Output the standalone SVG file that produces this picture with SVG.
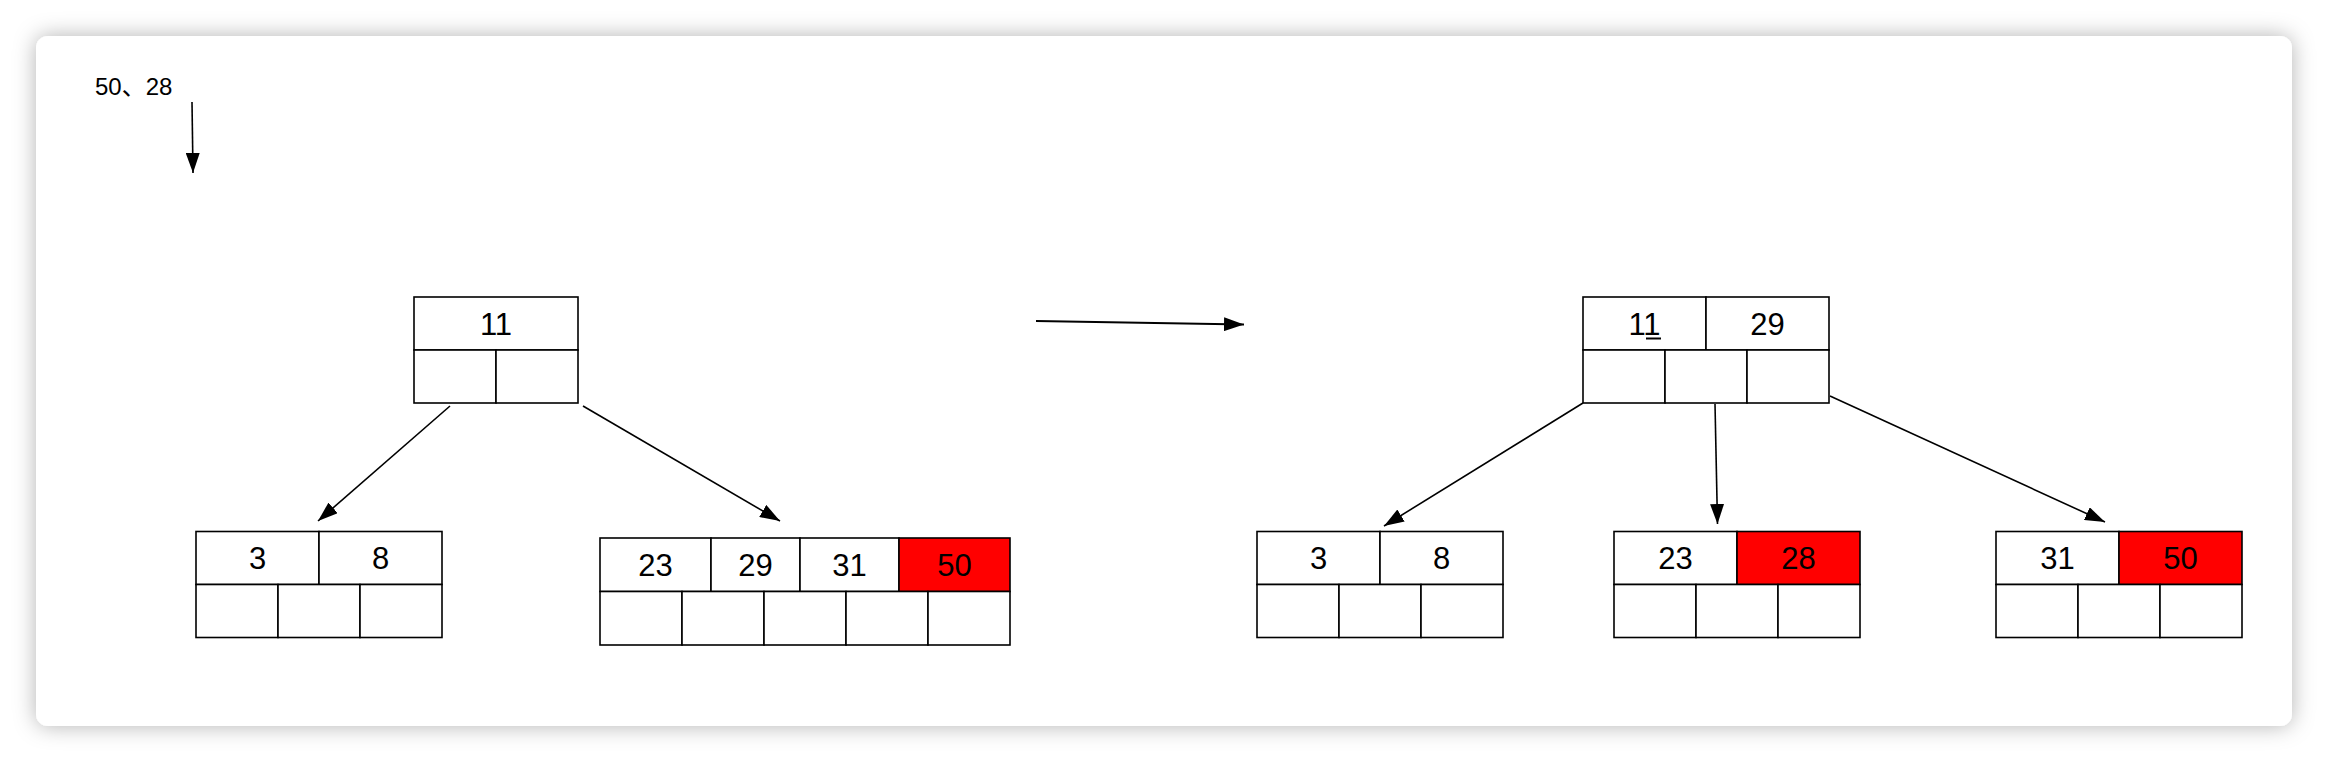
<svg xmlns="http://www.w3.org/2000/svg" width="2328" height="762" viewBox="0 0 2328 762">
<style>
.cell{fill:#ffffff;stroke:#000000;stroke-width:1.6}
.red{fill:#ff0000;stroke:#000000;stroke-width:1.6}
.t{font-family:"Liberation Sans",Arial,sans-serif;font-size:31px;fill:#000000;text-anchor:middle}
.lbl{font-family:"Liberation Sans","Noto Sans CJK SC",sans-serif;font-size:24px;fill:#000000}
.edge{stroke:#000000;stroke-width:1.6;fill:none;marker-end:url(#arrow)}
</style>
<defs>
<filter id="shadow" x="-5%" y="-10%" width="110%" height="120%">
<feDropShadow dx="0" dy="0" stdDeviation="11" flood-color="#000000" flood-opacity="0.3"/>
</filter>
<marker id="arrow" markerUnits="userSpaceOnUse" markerWidth="20" markerHeight="14" refX="20" refY="7" orient="auto">
<path d="M0,0 L20,7 L0,14 Z" fill="#000000"/>
</marker>
</defs>
<rect x="0" y="0" width="2328" height="762" fill="#ffffff"/>
<rect id="card" x="36" y="36" width="2256" height="690" rx="12" fill="#ffffff" filter="url(#shadow)"/>

<g id="label-input">
<text class="lbl" x="95" y="95">50、28</text>
</g>

<g id="tree1-root">
<rect class="cell" x="414" y="297" width="164" height="53"/>
<rect class="cell" x="414" y="350" width="82" height="53"/>
<rect class="cell" x="496" y="350" width="82" height="53"/>
<text class="t" x="496" y="335">11</text>
</g>

<g id="tree1-leaf-3-8">
<rect class="cell" x="196" y="531.5" width="123" height="53"/>
<rect class="cell" x="319" y="531.5" width="123" height="53"/>
<rect class="cell" x="196" y="584.5" width="82" height="53"/>
<rect class="cell" x="278" y="584.5" width="82" height="53"/>
<rect class="cell" x="360" y="584.5" width="82" height="53"/>
<text class="t" x="257.5" y="569">3</text>
<text class="t" x="380.5" y="569">8</text>
</g>

<g id="tree1-leaf-23-29-31-50">
<rect class="cell" x="600" y="538" width="111" height="53.5"/>
<rect class="cell" x="711" y="538" width="89" height="53.5"/>
<rect class="cell" x="800" y="538" width="99" height="53.5"/>
<rect class="red" x="899" y="538" width="111" height="53.5"/>
<rect class="cell" x="600" y="591.5" width="82" height="53.5"/>
<rect class="cell" x="682" y="591.5" width="82" height="53.5"/>
<rect class="cell" x="764" y="591.5" width="82" height="53.5"/>
<rect class="cell" x="846" y="591.5" width="82" height="53.5"/>
<rect class="cell" x="928" y="591.5" width="82" height="53.5"/>
<text class="t" x="655.5" y="576">23</text>
<text class="t" x="755.5" y="576">29</text>
<text class="t" x="849.5" y="576">31</text>
<text class="t" x="954.5" y="576">50</text>
</g>

<g id="tree2-root">
<rect class="cell" x="1583" y="297" width="123" height="53"/>
<rect class="cell" x="1706" y="297" width="123" height="53"/>
<rect class="cell" x="1583" y="350" width="82" height="53"/>
<rect class="cell" x="1665" y="350" width="82" height="53"/>
<rect class="cell" x="1747" y="350" width="82" height="53"/>
<text class="t" x="1644.5" y="335">11</text>
<line x1="1646" y1="338.5" x2="1661" y2="338.5" stroke="#000000" stroke-width="2"/>
<text class="t" x="1767.5" y="335">29</text>
</g>

<g id="tree2-leaf-3-8">
<rect class="cell" x="1257" y="531.5" width="123" height="53"/>
<rect class="cell" x="1380" y="531.5" width="123" height="53"/>
<rect class="cell" x="1257" y="584.5" width="82" height="53"/>
<rect class="cell" x="1339" y="584.5" width="82" height="53"/>
<rect class="cell" x="1421" y="584.5" width="82" height="53"/>
<text class="t" x="1318.5" y="569">3</text>
<text class="t" x="1441.5" y="569">8</text>
</g>

<g id="tree2-leaf-23-28">
<rect class="cell" x="1614" y="531.5" width="123" height="53"/>
<rect class="red" x="1737" y="531.5" width="123" height="53"/>
<rect class="cell" x="1614" y="584.5" width="82" height="53"/>
<rect class="cell" x="1696" y="584.5" width="82" height="53"/>
<rect class="cell" x="1778" y="584.5" width="82" height="53"/>
<text class="t" x="1675.5" y="569">23</text>
<text class="t" x="1798.5" y="569">28</text>
</g>

<g id="tree2-leaf-31-50">
<rect class="cell" x="1996" y="531.5" width="123" height="53"/>
<rect class="red" x="2119" y="531.5" width="123" height="53"/>
<rect class="cell" x="1996" y="584.5" width="82" height="53"/>
<rect class="cell" x="2078" y="584.5" width="82" height="53"/>
<rect class="cell" x="2160" y="584.5" width="82" height="53"/>
<text class="t" x="2057.5" y="569">31</text>
<text class="t" x="2180.5" y="569">50</text>
</g>

<g id="connectors">
<line class="edge" x1="192" y1="102" x2="193" y2="173"/>
<line class="edge" x1="450" y1="406" x2="318" y2="521"/>
<line class="edge" x1="583" y1="406" x2="780" y2="521"/>
<line class="edge" x1="1036" y1="321" x2="1244" y2="324.5" style="stroke-width:2"/>
<line class="edge" x1="1583" y1="403" x2="1384" y2="526"/>
<line class="edge" x1="1715" y1="404" x2="1717.5" y2="524"/>
<line class="edge" x1="1830" y1="396" x2="2105" y2="522"/>
</g>
</svg>
